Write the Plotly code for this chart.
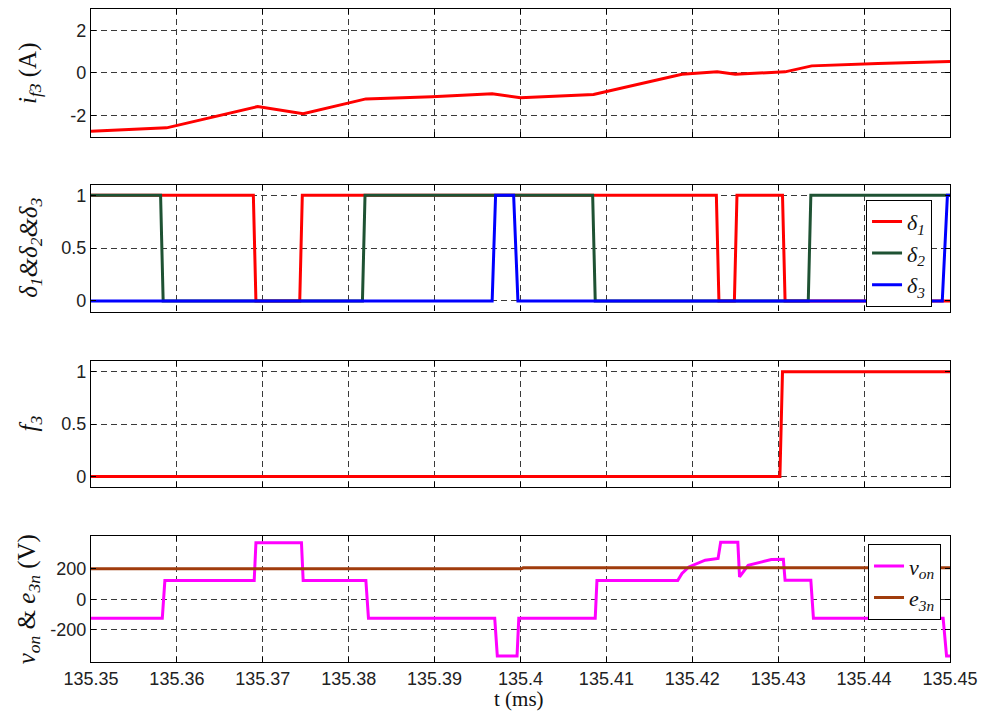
import plotly.graph_objects as go
from plotly.subplots import make_subplots

# ---- data -------------------------------------------------------------
t_if3 = [135.35, 135.3588, 135.3694, 135.3747, 135.3820, 135.3897, 135.3967,
         135.4000, 135.4085, 135.4099, 135.4188, 135.4229, 135.4250, 135.4308,
         135.4339, 135.4416, 135.45]
i_f3 = [-2.74, -2.58, -1.58, -1.92, -1.22, -1.12, -0.98, -1.17, -1.01, -0.88,
        -0.06, 0.05, -0.06, 0.05, 0.33, 0.44, 0.53]

t_d1 = [135.35, 135.3689, 135.3692, 135.3743, 135.3746, 135.4228, 135.4231,
        135.4249, 135.4252, 135.4305, 135.4308, 135.45]
d1 = [1, 1, 0, 0, 1, 1, 0, 0, 1, 1, 0, 0]

t_d2 = [135.35, 135.3581, 135.3584, 135.3816, 135.3819, 135.4084, 135.4087,
        135.4335, 135.4338, 135.45]
d2 = [1, 1, 0, 0, 1, 1, 0, 0, 1, 1]

t_d3 = [135.35, 135.3967, 135.3971, 135.3992, 135.3997, 135.4491, 135.4497, 135.45]
d3 = [0, 0, 1, 1, 0, 0, 1, 1]

t_f3 = [135.35, 135.4302, 135.4305, 135.45]
f3 = [0, 0, 1, 1]

t_von = [135.35, 135.3583, 135.3586, 135.3690, 135.3692, 135.3745, 135.3747,
         135.3820, 135.3823, 135.3970, 135.3973, 135.3996, 135.3998, 135.4087,
         135.4089, 135.4183, 135.4188, 135.4196, 135.4215, 135.4230, 135.4233,
         135.4253, 135.4255, 135.4265, 135.4281, 135.4292, 135.4306, 135.4308,
         135.4338, 135.4341, 135.4492, 135.4496, 135.45]
v_on = [-123, -123, 123, 123, 370, 370, 123, 123, -123, -123, -370, -370, -123,
        -123, 123, 123, 169, 212, 256, 267, 373, 373, 147, 223, 245, 261, 262,
        124, 124, -123, -123, -370, -370]

t_e3n = [135.35, 135.4001, 135.4003, 135.45]
e_3n = [200, 200, 206, 206]

x_ticks = [135.35, 135.36, 135.37, 135.38, 135.39, 135.40, 135.41, 135.42,
           135.43, 135.44, 135.45]
x_ticktext = ["135.35", "135.36", "135.37", "135.38", "135.39", "135.4",
              "135.41", "135.42", "135.43", "135.44", "135.45"]

# ---- figure -----------------------------------------------------------
W, H = 986, 711
ML, MR, MT, MB = 91, 34, 8, 49
PH = H - MT - MB

def ypaper(px):
    return (H - MB - px) / PH

def xpaper(px):
    return (px - ML) / (W - ML - MR)

fig = make_subplots(rows=4, cols=1, shared_xaxes=True)

RED, GREEN, BLUE = "#FF0000", "#1E5233", "#0000FF"
MAGENTA, BROWN = "#FF00FF", "#A03C0C"
LW = 3

fig.add_trace(go.Scatter(x=t_if3, y=i_f3, mode="lines", line=dict(color=RED, width=LW),
                         showlegend=False), row=1, col=1)

fig.add_trace(go.Scatter(x=t_d1, y=d1, mode="lines", line=dict(color=RED, width=LW),
                         name="<i>δ</i><sub><i>1</i></sub>", legend="legend"), row=2, col=1)
fig.add_trace(go.Scatter(x=t_d2, y=d2, mode="lines", line=dict(color=GREEN, width=LW),
                         name="<i>δ</i><sub><i>2</i></sub>", legend="legend"), row=2, col=1)
fig.add_trace(go.Scatter(x=t_d3, y=d3, mode="lines", line=dict(color=BLUE, width=LW),
                         name="<i>δ</i><sub><i>3</i></sub>", legend="legend"), row=2, col=1)

fig.add_trace(go.Scatter(x=t_f3, y=f3, mode="lines", line=dict(color=RED, width=LW),
                         showlegend=False), row=3, col=1)

fig.add_trace(go.Scatter(x=t_von, y=v_on, mode="lines", line=dict(color=MAGENTA, width=LW),
                         name="<i>v</i><sub><i>on</i></sub>", legend="legend2"), row=4, col=1)
fig.add_trace(go.Scatter(x=t_e3n, y=e_3n, mode="lines", line=dict(color=BROWN, width=LW),
                         name="<i>e</i><sub><i>3n</i></sub>", legend="legend2"), row=4, col=1)

domains = [
    (ypaper(136), ypaper(8)),
    (ypaper(311), ypaper(184)),
    (ypaper(486.7), ypaper(360.7)),
    (ypaper(662), ypaper(535.7)),
]
yranges = [[-3, 3], [-0.1, 1.1], [-0.1, 1.1], [-410, 415]]
ytickvals = [[-2, 0, 2], [0, 0.5, 1], [0, 0.5, 1], [-200, 0, 200]]
yticktext = [["-2", "0", "2"], ["0", "0.5", "1"], ["0", "0.5", "1"], ["-200", "0", "200"]]

tick_font = dict(family="Liberation Sans, Arial", size=18, color="#222222")
axis_common = dict(
    showline=True, linecolor="black", linewidth=1.2, mirror="allticks",
    ticks="inside", ticklen=5, tickwidth=1, tickcolor="black",
    showgrid=True, gridcolor="#3a3a3a", gridwidth=1, griddash="6px,4px",
    zeroline=False, tickfont=tick_font,
)

for i in range(4):
    n = "" if i == 0 else str(i + 1)
    fig.layout["yaxis" + n].update(
        domain=list(domains[i]), range=yranges[i],
        tickvals=ytickvals[i], ticktext=yticktext[i], **axis_common)
    fig.layout["xaxis" + n].update(
        range=[135.35, 135.45], tickvals=x_ticks, ticktext=x_ticktext,
        showticklabels=(i == 3), anchor="y" + n, **axis_common)

# axis titles
label_font = dict(family="Liberation Serif, Times New Roman", size=25, color="#111111")
ylabels = [
    ("<i>i</i><sub><i>f3</i></sub> (A)", 30, 72),
    ("<i>δ</i><sub><i>1</i></sub><i>&amp;δ</i><sub><i>2</i></sub><i>&amp;δ</i><sub><i>3</i></sub>", 30, 247),
    ("<i>f</i><sub><i>3</i></sub>", 30, 423),
    ("<i>v</i><sub><i>on</i></sub> &amp; <i>e</i><sub><i>3n</i></sub> (V)", 28, 599),
]
for text, xpx, ypx in ylabels:
    fig.add_annotation(text=text, xref="paper", yref="paper",
                       x=xpaper(xpx), y=ypaper(ypx), xanchor="center", yanchor="middle",
                       textangle=-90, showarrow=False, font=label_font)

fig.add_annotation(text="t (ms)", xref="paper", yref="paper",
                   x=xpaper(520), y=ypaper(699), xanchor="center", yanchor="middle",
                   showarrow=False, font=dict(family="Liberation Serif, Times New Roman",
                                              size=21, color="#111111"))

legend_font = dict(family="Liberation Serif, Times New Roman", size=22, color="#111111")
fig.update_layout(
    width=W, height=H,
    margin=dict(l=ML, r=MR, t=MT, b=MB),
    paper_bgcolor="white", plot_bgcolor="white",
    legend=dict(x=xpaper(934), y=ypaper(199), xanchor="right", yanchor="top",
                bordercolor="black", borderwidth=1, bgcolor="white",
                font=legend_font, tracegroupgap=0, itemwidth=30),
    legend2=dict(x=xpaper(943), y=ypaper(544), xanchor="right", yanchor="top",
                 bordercolor="black", borderwidth=1, bgcolor="white",
                 font=legend_font, tracegroupgap=0, itemwidth=30),
)

fig.write_html("out.html")
